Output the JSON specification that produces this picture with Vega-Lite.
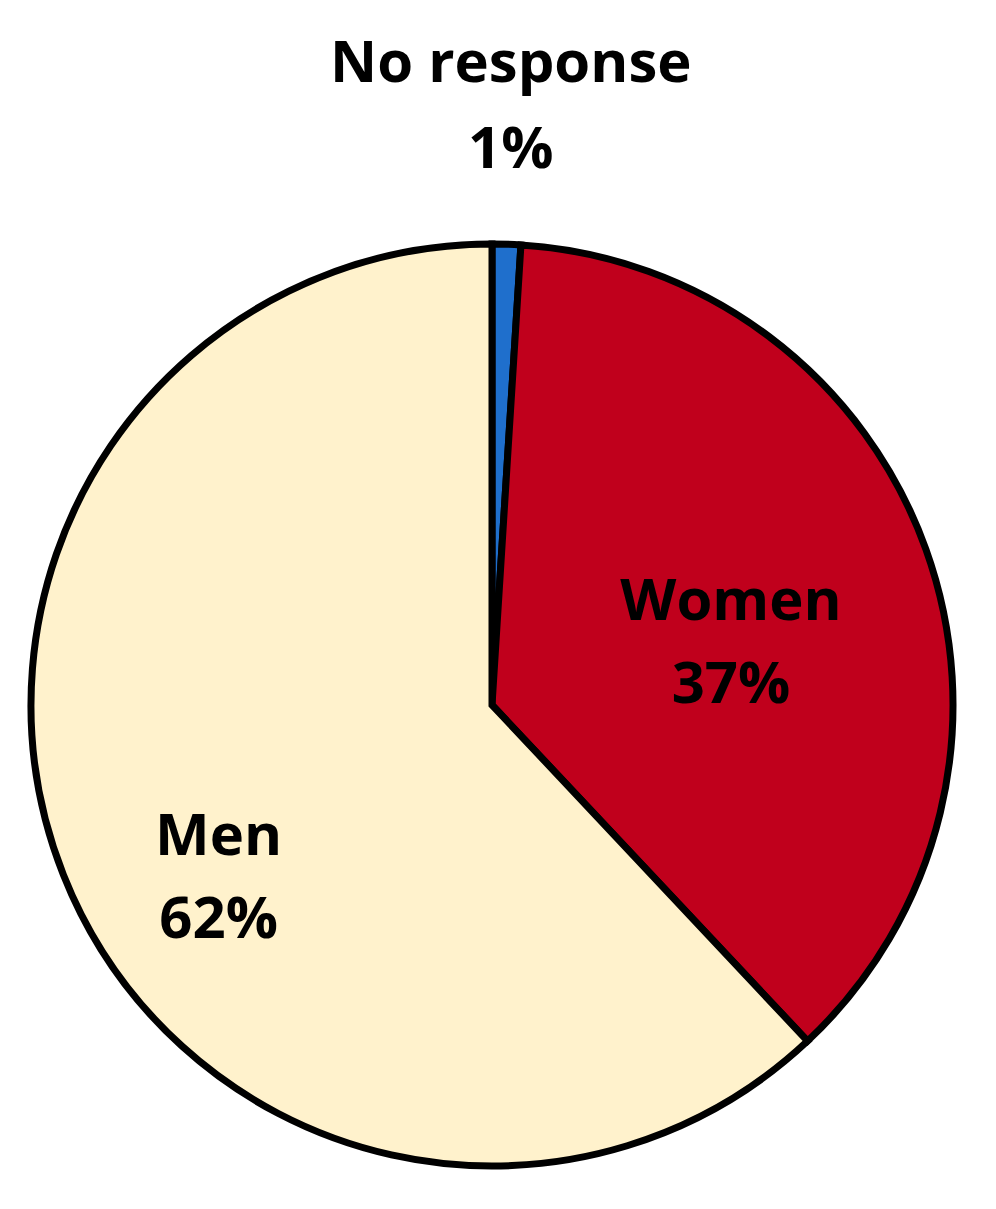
{
  "$schema": "https://vega.github.io/schema/vega-lite/v6.json",
  "width": 930,
  "height": 930,
  "autosize": {"type": "none"},
  "padding": {"left": 27, "top": 240, "right": 39, "bottom": 39},
  "background": "white",
  "config": {"view": {"stroke": null}},
  "data": {
    "values": [
      {"category": "No response", "value": 1, "label": "No response\n1%"},
      {"category": "Women", "value": 37, "label": "Women\n37%"},
      {"category": "Men", "value": 62, "label": "Men\n62%"}
    ]
  },
  "encoding": {
    "theta": {"field": "value", "type": "quantitative", "stack": true},
    "order": {"field": "value", "type": "quantitative", "sort": "ascending"}
  },
  "layer": [
    {
      "mark": {"type": "arc", "radius": 461, "stroke": "black", "strokeWidth": 7, "strokeJoin": "miter"},
      "encoding": {
        "color": {
          "field": "category",
          "type": "nominal",
          "scale": {"domain": ["No response", "Women", "Men"], "range": ["#1f6fcc", "#c0001c", "#fff2cc"]},
          "legend": null
        }
      }
    },
    {
      "mark": {"type": "text", "radius": 598, "dy": -42, "font": "Open Sans", "fontWeight": "bold", "fontSize": 58, "lineBreak": "\n", "lineHeight": 86, "align": "center", "baseline": "middle", "color": "black"},
      "encoding": {
        "text": {"condition": {"test": "datum.category === 'No response'", "field": "label", "type": "nominal"}, "value": ""}
      }
    },
    {
      "mark": {"type": "text", "radius": 254, "dy": -16, "font": "Open Sans", "fontWeight": "bold", "fontSize": 58, "lineBreak": "\n", "lineHeight": 83, "align": "center", "baseline": "middle", "color": "black"},
      "encoding": {
        "text": {"condition": {"test": "datum.category === 'Women'", "field": "label", "type": "nominal"}, "value": ""}
      }
    },
    {
      "mark": {"type": "text", "radius": 294, "dy": 25, "font": "Open Sans", "fontWeight": "bold", "fontSize": 58, "lineBreak": "\n", "lineHeight": 83, "align": "center", "baseline": "middle", "color": "black"},
      "encoding": {
        "text": {"condition": {"test": "datum.category === 'Men'", "field": "label", "type": "nominal"}, "value": ""}
      }
    }
  ]
}
